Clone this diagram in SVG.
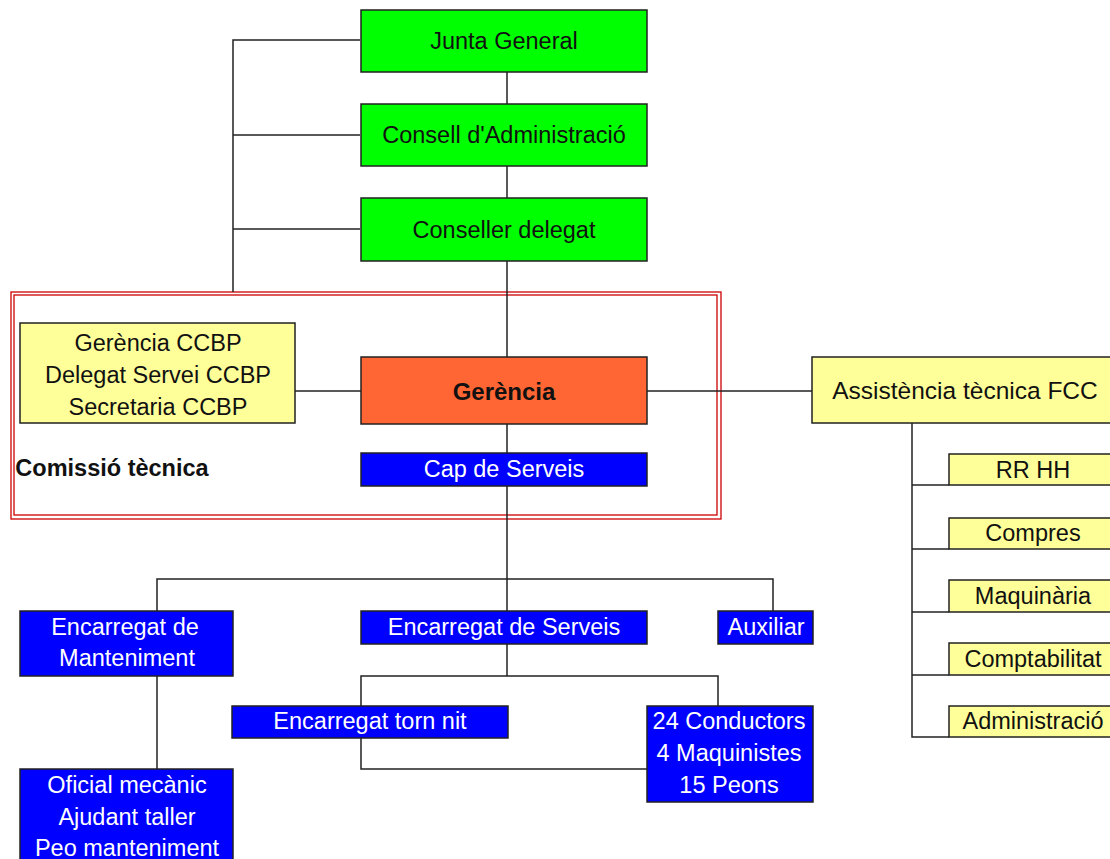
<svg xmlns="http://www.w3.org/2000/svg" width="1110" height="859" viewBox="0 0 1110 859">
  <style>
    text { font-family: "Liberation Sans", Arial, sans-serif; font-size: 23.5px; text-anchor: middle; dominant-baseline: central; }
    .dark { fill: #111; }
    .light { fill: #fff; }
    .b { font-weight: bold; }
    .box { stroke: #222; stroke-width: 1.5; }
    .green { fill: #00ff00; }
    .yellow { fill: #ffff99; }
    .orange { fill: #ff6633; }
    .blue { fill: #0000ff; }
    .wire { fill: none; stroke: #222; stroke-width: 1.5; }
    .frame { fill: none; stroke: #cc0000; stroke-width: 1.3; }
  </style>
  <rect width="1110" height="859" fill="#fff"/>

  <!-- technical committee frame (double red border) -->
  <g id="comissio-tecnica">
    <rect class="frame" x="11" y="292" width="710" height="227"/>
    <rect class="frame" x="14" y="295" width="703" height="220"/>
    <text class="dark b" x="112" y="468">Comissió tècnica</text>
  </g>

  <g id="connectors">
    <!-- governing bodies -->
    <polyline class="wire" points="360,40 233,40 233,292"/>
    <line class="wire" x1="233" y1="135" x2="360" y2="135"/>
    <line class="wire" x1="233" y1="229" x2="360" y2="229"/>
    <line class="wire" x1="507" y1="72" x2="507" y2="104"/>
    <line class="wire" x1="507" y1="166" x2="507" y2="198"/>
    <line class="wire" x1="507" y1="261" x2="507" y2="357"/>
    <line class="wire" x1="507" y1="424" x2="507" y2="453"/>
    <line class="wire" x1="507" y1="486" x2="507" y2="611"/>
    <!-- side links of Gerència -->
    <line class="wire" x1="295" y1="391" x2="361" y2="391"/>
    <line class="wire" x1="647" y1="391" x2="812" y2="391"/>
    <!-- services level -->
    <polyline class="wire" points="157,611 157,579 773,579 773,611"/>
    <line class="wire" x1="157" y1="676" x2="157" y2="769"/>
    <line class="wire" x1="507" y1="644" x2="507" y2="676"/>
    <polyline class="wire" points="361,706 361,676 718,676 718,706"/>
    <polyline class="wire" points="361,738 361,769 647,769"/>
    <!-- FCC departments -->
    <polyline class="wire" points="912,423 912,737 949,737"/>
    <line class="wire" x1="912" y1="485" x2="949" y2="485"/>
    <line class="wire" x1="912" y1="549" x2="949" y2="549"/>
    <line class="wire" x1="912" y1="612" x2="949" y2="612"/>
    <line class="wire" x1="912" y1="675" x2="949" y2="675"/>
  </g>

  <g id="junta-general">
    <rect class="box green" x="361" y="10" width="286" height="62"/>
    <text class="dark" x="504" y="41">Junta General</text>
  </g>
  <g id="consell-administracio">
    <rect class="box green" x="361" y="104" width="286" height="62"/>
    <text class="dark" x="504" y="135">Consell d'Administració</text>
  </g>
  <g id="conseller-delegat">
    <rect class="box green" x="361" y="198" width="286" height="63"/>
    <text class="dark" x="504" y="230">Conseller delegat</text>
  </g>

  <g id="gerencia-ccbp">
    <rect class="box yellow" x="20" y="323" width="275" height="100"/>
    <text class="dark" x="158" y="343">Gerència CCBP</text>
    <text class="dark" x="158" y="375">Delegat Servei CCBP</text>
    <text class="dark" x="158" y="407">Secretaria CCBP</text>
  </g>
  <g id="gerencia">
    <rect class="box orange" x="361" y="357" width="286" height="67"/>
    <text class="dark b" x="504" y="391" style="font-size:24px">Gerència</text>
  </g>
  <g id="cap-serveis">
    <rect class="box blue" x="361" y="453" width="286" height="33"/>
    <text class="light" x="504" y="469">Cap de Serveis</text>
  </g>

  <g id="assistencia-fcc">
    <rect class="box yellow" x="812" y="357" width="306" height="66"/>
    <text class="dark" x="965" y="390" style="font-size:24.5px">Assistència tècnica FCC</text>
  </g>
  <g id="rrhh">
    <rect class="box yellow" x="949" y="454" width="169" height="31"/>
    <text class="dark" x="1033" y="470">RR HH</text>
  </g>
  <g id="compres">
    <rect class="box yellow" x="949" y="518" width="169" height="31"/>
    <text class="dark" x="1033" y="533">Compres</text>
  </g>
  <g id="maquinaria">
    <rect class="box yellow" x="949" y="580" width="169" height="32"/>
    <text class="dark" x="1033" y="596">Maquinària</text>
  </g>
  <g id="comptabilitat">
    <rect class="box yellow" x="949" y="643" width="169" height="32"/>
    <text class="dark" x="1033" y="659">Comptabilitat</text>
  </g>
  <g id="administracio">
    <rect class="box yellow" x="949" y="706" width="169" height="31"/>
    <text class="dark" x="1033" y="721">Administració</text>
  </g>

  <g id="encarregat-manteniment">
    <rect class="box blue" x="20" y="611" width="213" height="65"/>
    <text class="light" x="125" y="627">Encarregat de</text>
    <text class="light" x="127" y="658">Manteniment</text>
  </g>
  <g id="encarregat-serveis">
    <rect class="box blue" x="361" y="611" width="286" height="33"/>
    <text class="light" x="504" y="627">Encarregat de Serveis</text>
  </g>
  <g id="auxiliar">
    <rect class="box blue" x="718" y="611" width="95" height="33"/>
    <text class="light" x="766" y="627">Auxiliar</text>
  </g>
  <g id="encarregat-torn-nit">
    <rect class="box blue" x="232" y="706" width="276" height="32"/>
    <text class="light" x="370" y="721">Encarregat torn nit</text>
  </g>
  <g id="conductors">
    <rect class="box blue" x="647" y="706" width="166" height="96"/>
    <text class="light" x="729" y="721">24 Conductors</text>
    <text class="light" x="729" y="753">4 Maquinistes</text>
    <text class="light" x="729" y="785">15 Peons</text>
  </g>
  <g id="oficial-mecanic">
    <rect class="box blue" x="20" y="769" width="213" height="100"/>
    <text class="light" x="127" y="785">Oficial mecànic</text>
    <text class="light" x="127" y="817">Ajudant taller</text>
    <text class="light" x="127" y="848">Peo manteniment</text>
  </g>
</svg>
